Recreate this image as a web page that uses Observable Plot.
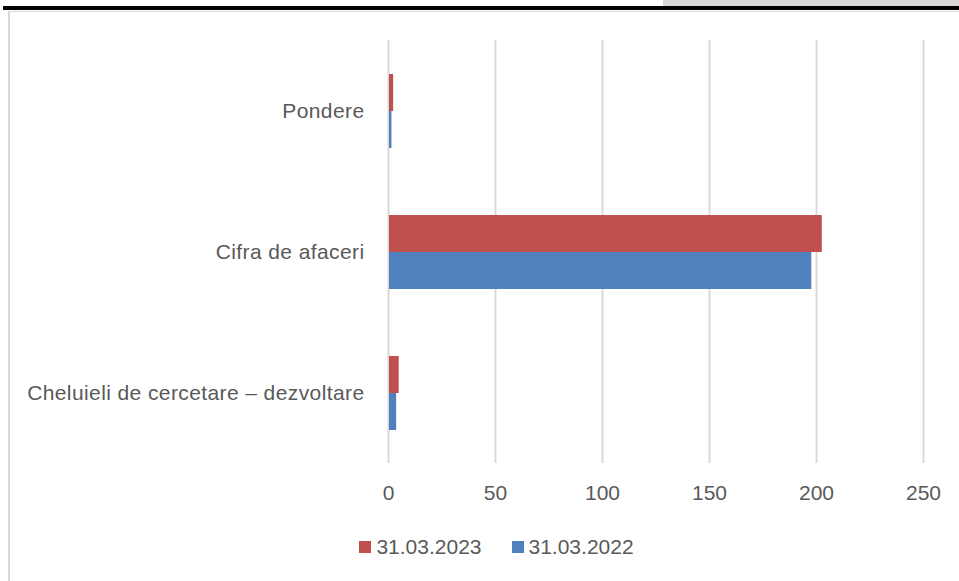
<!DOCTYPE html>
<html>
<head>
<meta charset="utf-8">
<script src="https://cdn.jsdelivr.net/npm/d3@7"></script>
<script src="https://cdn.jsdelivr.net/npm/@observablehq/plot@0.6"></script>
<style>
  html, body { margin: 0; padding: 0; background: #fff; }
  #wrap { position: relative; width: 959px; height: 581px; overflow: hidden; font-family: "Liberation Sans", Arial, sans-serif; }
  #chart { position: absolute; left: 0; top: 0; }
  #chart g[aria-label="fy-axis tick label"] text { letter-spacing: 0.4px; }
  .topbar { position: absolute; left: 3px; top: 6px; width: 956px; height: 4px; background: #000; }
  .topgray { position: absolute; left: 663px; top: 0; width: 296px; height: 6px; background: #d9d9d9; }
  .frameTop { position: absolute; left: 8px; top: 11px; width: 951px; height: 1px; background: #d9d9d9; }
  .frameLeft { position: absolute; left: 8px; top: 11px; width: 2px; height: 570px; background: #d9d9d9; }
  #legend { position: absolute; top: 534px; left: 0; width: 959px; display: flex; justify-content: center; gap: 30px; font-size: 21px; line-height: 26px; color: #595959; padding-left: 34px; box-sizing: border-box; }
  #legend span.item { display: inline-flex; align-items: center; }
  #legend span.sw { display: inline-block; width: 12px; height: 12px; margin-right: 5px; }
</style>
</head>
<body>
<div id="wrap">
  <div class="topgray"></div>
  <div class="topbar"></div>
  <div class="frameTop"></div>
  <div class="frameLeft"></div>
  <div id="chart"></div>
  <div id="legend"></div>
</div>
<script>
const categories = ["Pondere", "Cifra de afaceri", "Cheluieli de cercetare – dezvoltare"];
const series = ["31.03.2023", "31.03.2022"];
const values2023 = [2.4, 202.7, 5.0];
const values2022 = [1.6, 197.8, 3.8];
const colors = ["#C0504D", "#4F81BD"];
const xTicks = [0, 50, 100, 150, 200, 250];

const data = [];
categories.forEach((c, i) => {
  data.push({category: c, series: series[0], value: values2023[i]});
  data.push({category: c, series: series[1], value: values2022[i]});
});

const chart = Plot.plot({
  width: 959,
  height: 520,
  marginLeft: 388,
  marginRight: 36,
  marginTop: 40,
  marginBottom: 57,
  style: {fontFamily: "'Liberation Sans', Arial, sans-serif", fontSize: "21px", color: "#595959", background: "transparent"},
  x: {domain: [0, 250], ticks: xTicks, axis: null},
  fy: {domain: categories, padding: 0, label: null, axis: null},
  y: {domain: series, paddingInner: 0, paddingOuter: 0.905, axis: null},
  color: {domain: series, range: colors},
  marks: [
    Plot.ruleX(xTicks, {x: d => d, stroke: "#d9d9d9", strokeWidth: 2}),
    Plot.barX(data, {x: "value", y: "series", fy: "category", fill: "series", insetLeft: 1}),
    Plot.axisX({ticks: xTicks, tickSize: 0, tickPadding: 22, label: null, fill: "#595959", fontSize: 21}),
    Plot.axisFy({anchor: "left", tickSize: 0, tickPadding: 24, label: null, fill: "#595959", fontSize: 21})
  ]
});
document.getElementById("chart").appendChild(chart);

const legend = document.getElementById("legend");
series.forEach((s, i) => {
  const item = document.createElement("span");
  item.className = "item";
  const sw = document.createElement("span");
  sw.className = "sw";
  sw.style.background = colors[i];
  item.appendChild(sw);
  item.appendChild(document.createTextNode(s));
  legend.appendChild(item);
});
</script>
</body>
</html>
